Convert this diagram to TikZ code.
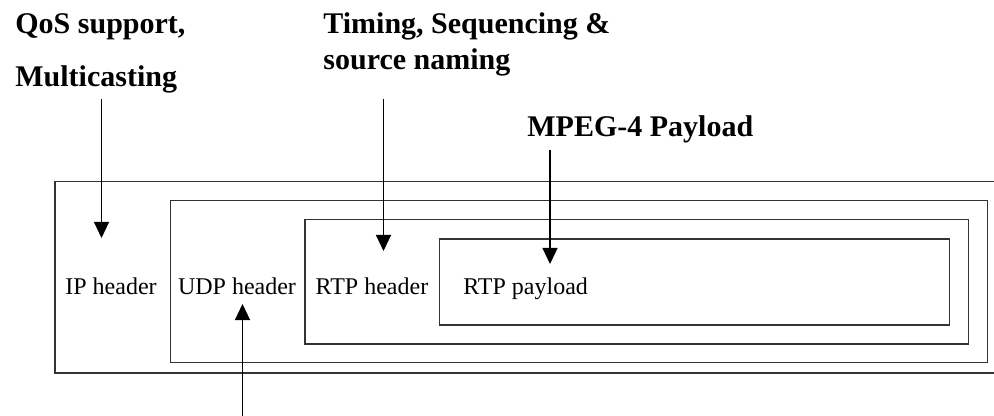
\documentclass[tikz,border=0pt]{standalone}
\usepackage{fontspec}
\setmainfont{Liberation Serif}
\usetikzlibrary{arrows.meta}

\begin{document}
\begin{tikzpicture}
    \tikzset{x={(0.5pt, 0pt)}, y={(0pt, -0.5pt)}}
    \tikzset{frame/.style={draw=black!80, line width=0.95pt},
             note/.style={font=\bfseries\fontsize{15}{18}\selectfont, inner sep=0pt, anchor=base west},
             field/.style={font=\fontsize{12}{14}\selectfont, inner sep=0pt, anchor=base},
             pointer/.style={-{Triangle[width=7.5pt, length=8pt]}, line width=0.55pt}}
    \useasboundingbox (0, 0) rectangle (994, 416);
    \draw[frame] (994, 181.5) -- (55, 181.5) -- (55, 373) -- (994, 373);
    \draw[frame] (170.5, 200.5) rectangle (987.5, 362.5);
    \draw[frame] (305, 219.5) rectangle (968.5, 344);
    \draw[frame] (439.5, 239) rectangle (949.5, 325);
    \node[field] (iphdr) at (111, 294) {IP header};
    \node[field] (udphdr) at (237, 294) {UDP header};
    \node[field] (rtphdr) at (372, 294) {RTP header};
    \node[field, anchor=base west] (rtppay) at (463, 294) {RTP payload};
    \node[note] (qos) at (15, 33.5) {QoS support,};
    \node[note] (multi) at (15, 87) {Multicasting};
    \node[note] (timing) at (323, 33.5) {Timing, Sequencing \&};
    \node[note] (naming) at (323, 70) {source naming};
    \node[note] (mpeg) at (527, 137) {MPEG-4 Payload};
    \coordinate (qosFoot) at (101.5, 99);
    \coordinate (qosTip) at (101.5, 238);
    \coordinate (seqFoot) at (383.5, 99);
    \coordinate (seqTip) at (383.5, 251);
    \coordinate (mpegFoot) at (550, 150);
    \coordinate (mpegTip) at (550, 264);
    \coordinate (udpFoot) at (242.5, 416);
    \coordinate (udpTip) at (242.5, 304);
    \draw[pointer] (qosFoot) -- (qosTip);
    \draw[pointer] (seqFoot) -- (seqTip);
    \draw[pointer] (mpegFoot) -- (mpegTip);
    \draw[pointer] (udpFoot) -- (udpTip);
\end{tikzpicture}
\end{document}
